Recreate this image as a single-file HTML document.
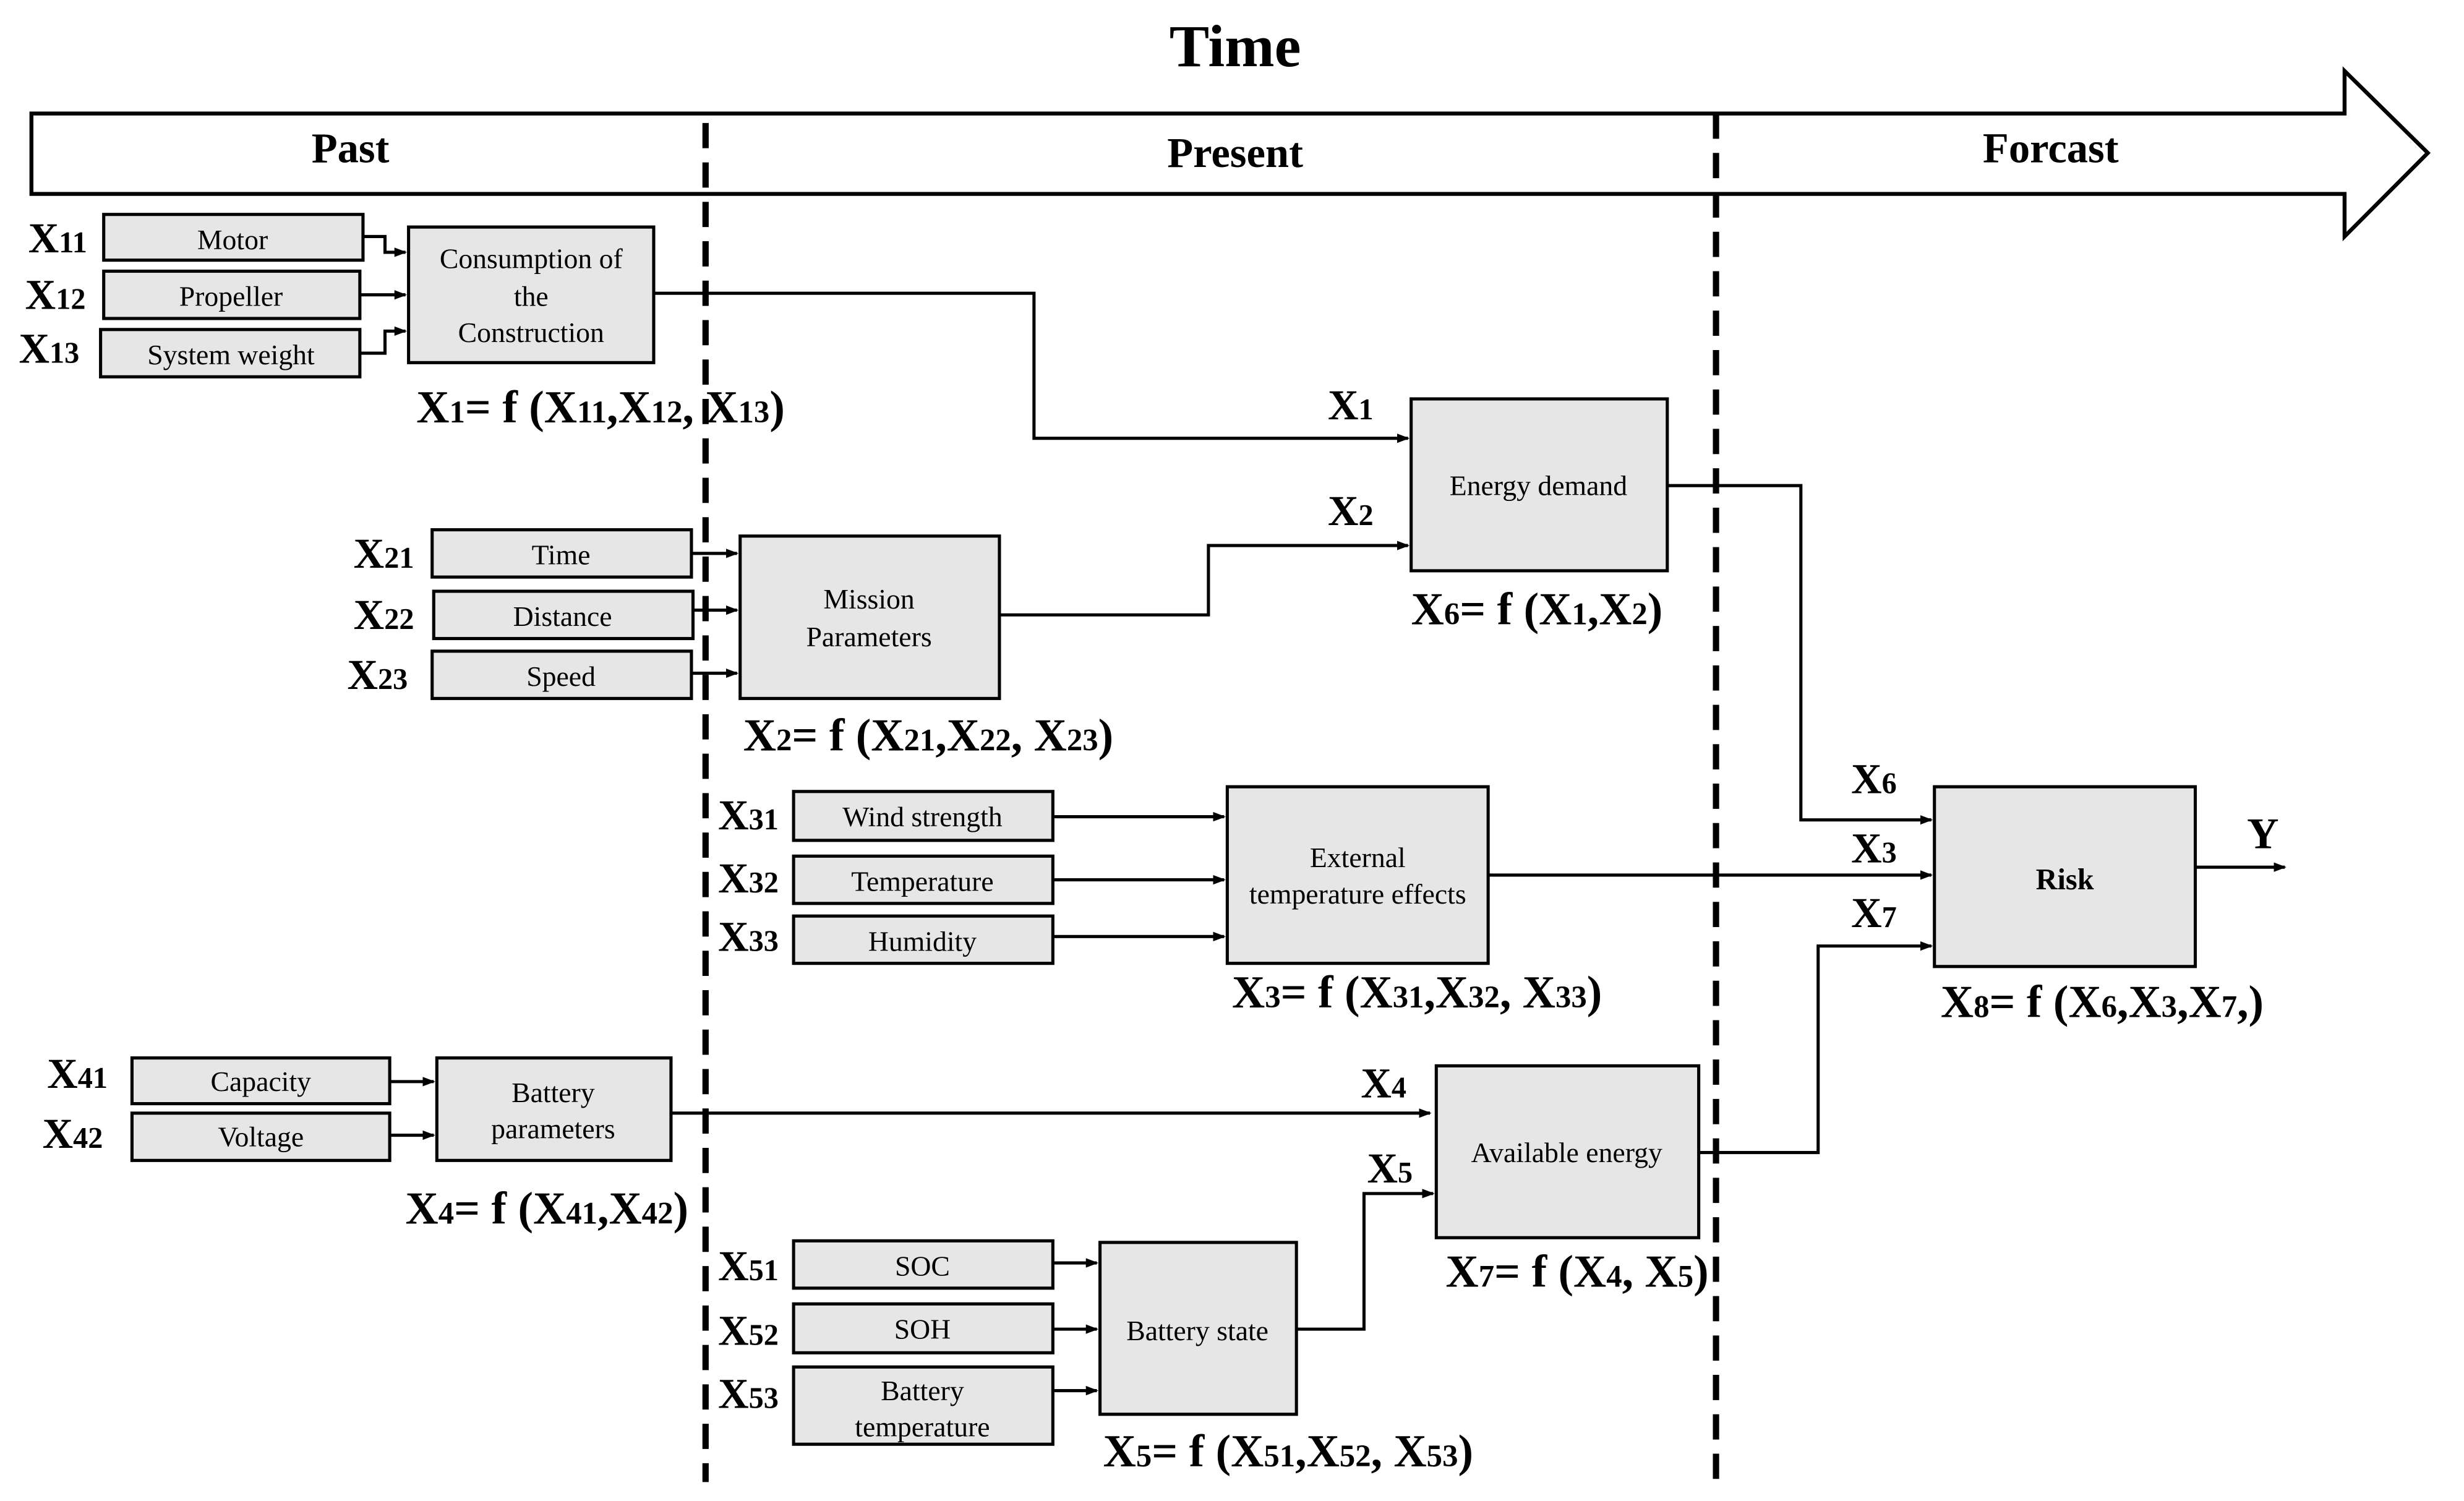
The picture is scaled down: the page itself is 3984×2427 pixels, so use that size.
<!DOCTYPE html>
<html><head><meta charset="utf-8"><style>
html,body{margin:0;padding:0;background:#fff;}
svg{display:block;}
text{font-family:"Liberation Serif",serif;}
.b{fill:#e6e6e6;stroke:#000;stroke-width:2;}
.t{font-size:18px;text-anchor:middle;}
.x{font-size:27px;font-weight:bold;}
.x tspan.s{font-size:19px;}
.f{font-size:29px;font-weight:bold;}
.f tspan.s{font-size:20px;}
.l{fill:none;stroke:#000;stroke-width:2;}
</style></head><body>
<svg width="3984" height="2427" viewBox="0 0 1568 952" preserveAspectRatio="none" xmlns="http://www.w3.org/2000/svg">
<defs><marker id="a" markerWidth="8" markerHeight="8" refX="7" refY="4" orient="auto" markerUnits="userSpaceOnUse"><path d="M0,1 L8,4 L0,7 z" fill="#000"/></marker></defs>
<text x="786" y="42" font-size="38" font-weight="bold" text-anchor="middle">Time</text>
<polygon points="20,72 1492,72 1492,45 1545,97 1492,150 1492,123 20,123" fill="#fff" stroke="#000" stroke-width="2.5"/>
<text x="223" y="103" font-size="27" font-weight="bold" text-anchor="middle">Past</text>
<text x="786" y="106" font-size="27" font-weight="bold" text-anchor="middle">Present</text>
<text x="1305" y="103" font-size="27" font-weight="bold" text-anchor="middle">Forcast</text>
<line x1="449" y1="78" x2="449" y2="940" stroke="#000" stroke-width="4" stroke-dasharray="16,9"/>
<line x1="1092" y1="72" x2="1092" y2="940" stroke="#000" stroke-width="4" stroke-dasharray="16,9"/>

<rect class="b" x="66" y="136" width="165" height="29"/><text class="t" x="148" y="158">Motor</text>
<rect class="b" x="66" y="172" width="163" height="30"/><text class="t" x="147" y="194">Propeller</text>
<rect class="b" x="64" y="209" width="165" height="30"/><text class="t" x="147" y="231">System weight</text>
<text class="x" x="18" y="160">X<tspan class="s">11</tspan></text>
<text class="x" x="16" y="196">X<tspan class="s">12</tspan></text>
<text class="x" x="12" y="230">X<tspan class="s">13</tspan></text>
<rect class="b" x="260" y="144" width="156" height="86"/>
<text class="t" x="338" y="170">Consumption of</text><text class="t" x="338" y="194">the</text><text class="t" x="338" y="217">Construction</text>
<path class="l" d="M231,150 H245 V160 H258" marker-end="url(#a)"/>
<path class="l" d="M229,187 H258" marker-end="url(#a)"/>
<path class="l" d="M229,224 H245 V210 H258" marker-end="url(#a)"/>
<text class="f" x="265" y="268">X<tspan class="s">1</tspan>= f (X<tspan class="s">11</tspan>,X<tspan class="s">12</tspan>, X<tspan class="s">13</tspan>)</text>
<path class="l" d="M416,186 H658 V278 H896" marker-end="url(#a)"/>
<text class="x" x="845" y="266">X<tspan class="s">1</tspan></text>

<rect class="b" x="898" y="253" width="163" height="109"/><text class="t" x="979" y="314">Energy demand</text>
<text class="x" x="845" y="333">X<tspan class="s">2</tspan></text>
<text class="f" x="898" y="396">X<tspan class="s">6</tspan>= f (X<tspan class="s">1</tspan>,X<tspan class="s">2</tspan>)</text>
<path class="l" d="M637,390 H769 V346 H896" marker-end="url(#a)"/>
<path class="l" d="M1061,308 H1146 V520 H1229" marker-end="url(#a)"/>

<rect class="b" x="275" y="336" width="165" height="30"/><text class="t" x="357" y="358">Time</text>
<rect class="b" x="276" y="375" width="165" height="30"/><text class="t" x="358" y="397">Distance</text>
<rect class="b" x="275" y="413" width="165" height="30"/><text class="t" x="357" y="435">Speed</text>
<text class="x" x="225" y="360">X<tspan class="s">21</tspan></text>
<text class="x" x="225" y="399">X<tspan class="s">22</tspan></text>
<text class="x" x="221" y="437">X<tspan class="s">23</tspan></text>
<path class="l" d="M440,351 H469" marker-end="url(#a)"/>
<path class="l" d="M441,387 H469" marker-end="url(#a)"/>
<path class="l" d="M440,427 H469" marker-end="url(#a)"/>
<rect class="b" x="471" y="340" width="165" height="103"/>
<text class="t" x="553" y="386">Mission</text><text class="t" x="553" y="410">Parameters</text>
<text class="f" x="473" y="476">X<tspan class="s">2</tspan>= f (X<tspan class="s">21</tspan>,X<tspan class="s">22</tspan>, X<tspan class="s">23</tspan>)</text>

<rect class="b" x="505" y="502" width="165" height="31"/><text class="t" x="587" y="524">Wind strength</text>
<rect class="b" x="505" y="543" width="165" height="30"/><text class="t" x="587" y="565">Temperature</text>
<rect class="b" x="505" y="581" width="165" height="30"/><text class="t" x="587" y="603">Humidity</text>
<text class="x" x="457" y="526">X<tspan class="s">31</tspan></text>
<text class="x" x="457" y="566">X<tspan class="s">32</tspan></text>
<text class="x" x="457" y="603">X<tspan class="s">33</tspan></text>
<path class="l" d="M670,518 H779" marker-end="url(#a)"/>
<path class="l" d="M670,558 H779" marker-end="url(#a)"/>
<path class="l" d="M670,594 H779" marker-end="url(#a)"/>
<rect class="b" x="781" y="499" width="166" height="112"/>
<text class="t" x="864" y="550">External</text><text class="t" x="864" y="573">temperature effects</text>
<text class="f" x="784" y="639">X<tspan class="s">3</tspan>= f (X<tspan class="s">31</tspan>,X<tspan class="s">32</tspan>, X<tspan class="s">33</tspan>)</text>
<path class="l" d="M947,555 H1229" marker-end="url(#a)"/>

<text class="x" x="1178" y="503">X<tspan class="s">6</tspan></text>
<text class="x" x="1178" y="547">X<tspan class="s">3</tspan></text>
<text class="x" x="1178" y="588">X<tspan class="s">7</tspan></text>
<rect class="b" x="1231" y="499" width="166" height="114"/>
<text x="1314" y="564" font-size="19" font-weight="bold" text-anchor="middle">Risk</text>
<path class="l" d="M1397,550 H1454" marker-end="url(#a)"/>
<text x="1440" y="538" font-size="28" font-weight="bold" text-anchor="middle">Y</text>
<text class="f" x="1235" y="645">X<tspan class="s">8</tspan>= f (X<tspan class="s">6</tspan>,X<tspan class="s">3</tspan>,X<tspan class="s">7</tspan>,)</text>
<path class="l" d="M1081,731 H1157 V600 H1229" marker-end="url(#a)"/>

<rect class="b" x="84" y="671" width="164" height="29"/><text class="t" x="166" y="692">Capacity</text>
<rect class="b" x="84" y="706" width="164" height="30"/><text class="t" x="166" y="727">Voltage</text>
<text class="x" x="30" y="690">X<tspan class="s">41</tspan></text>
<text class="x" x="27" y="728">X<tspan class="s">42</tspan></text>
<path class="l" d="M248,686 H276" marker-end="url(#a)"/>
<path class="l" d="M248,720 H276" marker-end="url(#a)"/>
<rect class="b" x="278" y="671" width="149" height="65"/>
<text class="t" x="352" y="699">Battery</text><text class="t" x="352" y="722">parameters</text>
<text class="f" x="258" y="776">X<tspan class="s">4</tspan>= f (X<tspan class="s">41</tspan>,X<tspan class="s">42</tspan>)</text>
<path class="l" d="M427,706 H910" marker-end="url(#a)"/>
<text class="x" x="866" y="696">X<tspan class="s">4</tspan></text>
<rect class="b" x="914" y="676" width="167" height="109"/><text class="t" x="997" y="737">Available energy</text>
<text class="x" x="870" y="750">X<tspan class="s">5</tspan></text>
<text class="f" x="920" y="816">X<tspan class="s">7</tspan>= f (X<tspan class="s">4</tspan>, X<tspan class="s">5</tspan>)</text>

<rect class="b" x="505" y="787" width="165" height="30"/><text class="t" x="587" y="809">SOC</text>
<rect class="b" x="505" y="827" width="165" height="31"/><text class="t" x="587" y="849">SOH</text>
<rect class="b" x="505" y="867" width="165" height="49"/>
<text class="t" x="587" y="888">Battery</text><text class="t" x="587" y="911">temperature</text>
<text class="x" x="457" y="812">X<tspan class="s">51</tspan></text>
<text class="x" x="457" y="853">X<tspan class="s">52</tspan></text>
<text class="x" x="457" y="893">X<tspan class="s">53</tspan></text>
<path class="l" d="M670,801 H698" marker-end="url(#a)"/>
<path class="l" d="M670,843 H698" marker-end="url(#a)"/>
<path class="l" d="M670,882 H698" marker-end="url(#a)"/>
<rect class="b" x="700" y="788" width="125" height="109"/><text class="t" x="762" y="850">Battery state</text>
<path class="l" d="M825,843 H868 V757 H912" marker-end="url(#a)"/>
<text class="f" x="702" y="930">X<tspan class="s">5</tspan>= f (X<tspan class="s">51</tspan>,X<tspan class="s">52</tspan>, X<tspan class="s">53</tspan>)</text>
</svg>
</body></html>
